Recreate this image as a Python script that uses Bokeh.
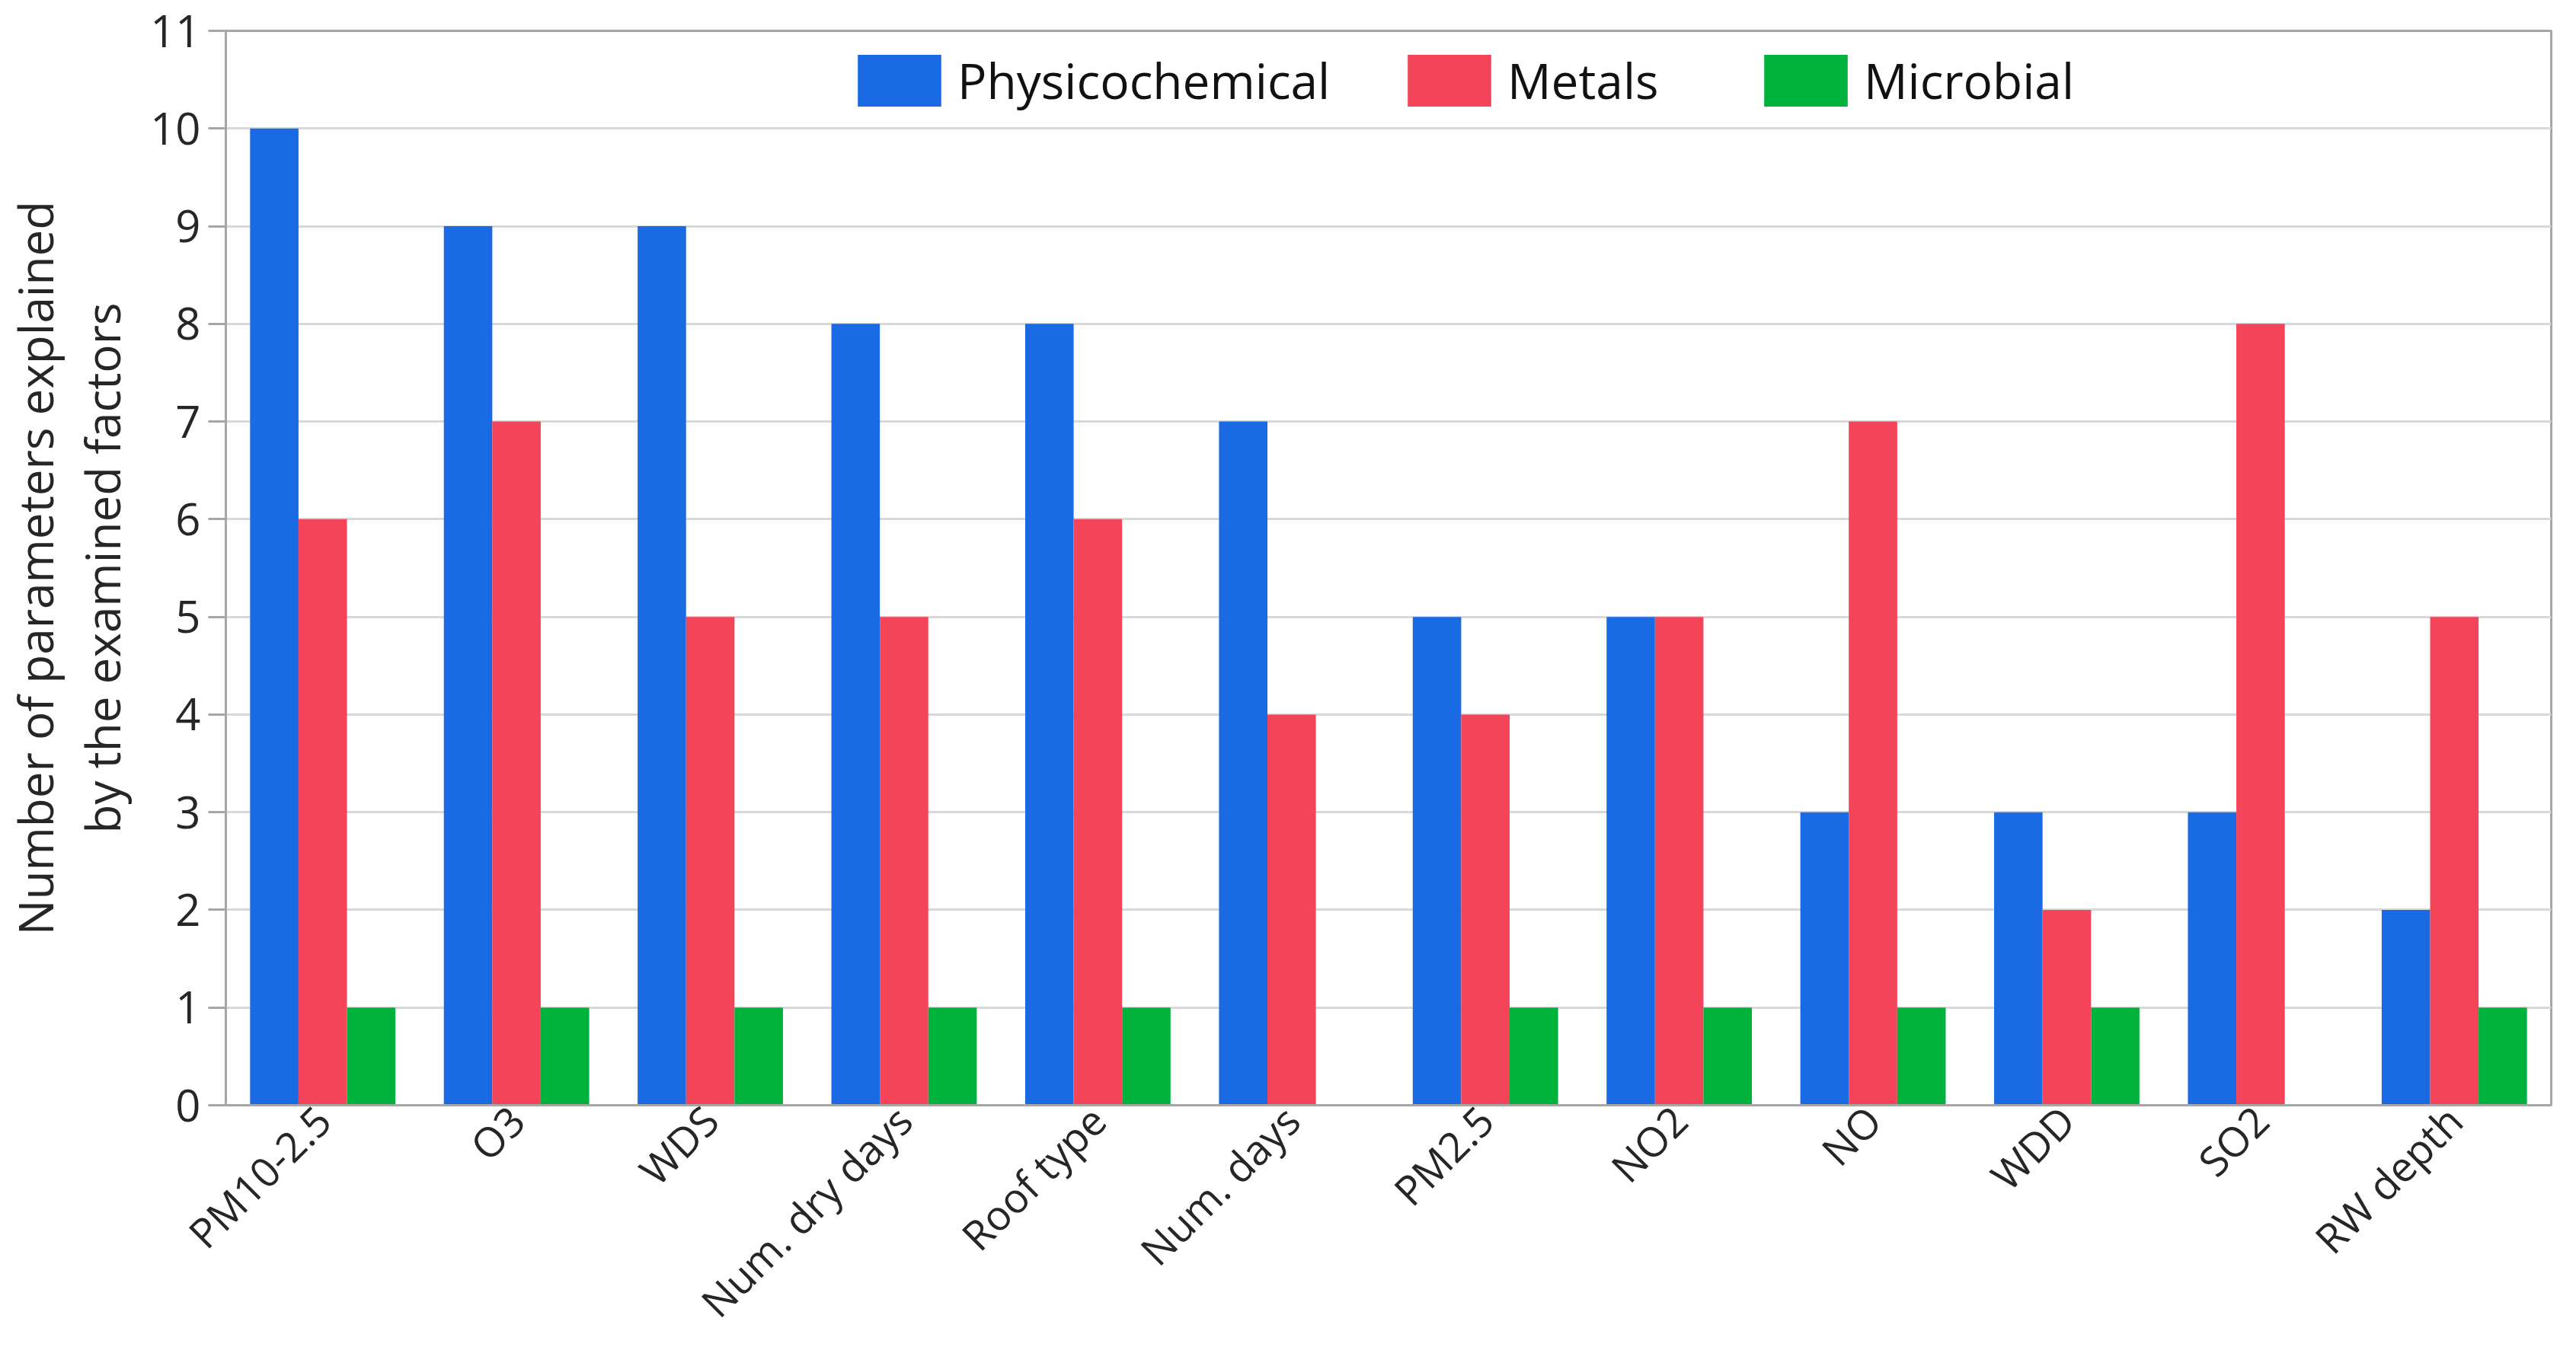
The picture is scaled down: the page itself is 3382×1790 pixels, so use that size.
import math
from bokeh.plotting import figure
from bokeh.models import ColumnDataSource, FactorRange, FixedTicker, Legend, LegendItem
from bokeh.transform import dodge
from bokeh.embed import file_html
from bokeh.resources import INLINE

categories = ["PM10-2.5", "O3", "WDS", "Num. dry days", "Roof type", "Num. days",
              "PM2.5", "NO2", "NO", "WDD", "SO2", "RW depth"]
physicochemical = [10, 9, 9, 8, 8, 7, 5, 5, 3, 3, 3, 2]
metals = [6, 7, 5, 5, 6, 4, 4, 5, 7, 2, 8, 5]
microbial = [1, 1, 1, 1, 1, 0, 1, 1, 1, 1, 0, 1]
series_names = ["Physicochemical", "Metals", "Microbial"]
y_ticks = list(range(12))

BLUE = "#1a6be3"
RED = "#f4445a"
GREEN = "#00b23c"
FONT = "Open Sans"
TXT = "#262626"
AXIS_GRAY = "#a6a6a6"

src = ColumnDataSource(dict(cat=categories, phys=physicochemical, met=metals, mic=microbial))

p = figure(x_range=FactorRange(factors=categories, range_padding=0), y_range=(0, 11),
           width=3366, height=1774, output_backend="svg", toolbar_location=None,
           min_border_left=292, min_border_right=17, min_border_top=40, min_border_bottom=320)

r1 = p.vbar(x=dodge("cat", -0.25, range=p.x_range), top="phys", width=0.25, source=src,
            fill_color=BLUE, line_color=None)
r2 = p.vbar(x=dodge("cat", 0.0, range=p.x_range), top="met", width=0.25, source=src,
            fill_color=RED, line_color=None)
r3 = p.vbar(x=dodge("cat", 0.25, range=p.x_range), top="mic", width=0.25, source=src,
            fill_color=GREEN, line_color=None)

p.outline_line_color = AXIS_GRAY
p.outline_line_width = 3

p.xgrid.grid_line_color = None
p.ygrid.grid_line_color = "#d9d9d9"
p.ygrid.grid_line_width = 3

# y axis
p.yaxis.ticker = FixedTicker(ticks=y_ticks)
p.yaxis.axis_label = "Number of parameters explained\nby the examined factors"
p.yaxis.axis_label_text_font = FONT
p.yaxis.axis_label_text_font_size = "62px"
p.yaxis.axis_label_text_font_style = "normal"
p.yaxis.axis_label_text_color = TXT
p.yaxis.axis_label_text_line_height = 1.05
p.yaxis.axis_label_standoff = 18
p.yaxis.major_label_text_font = FONT
p.yaxis.major_label_text_font_size = "58px"
p.yaxis.major_label_text_color = TXT
p.yaxis.major_label_standoff = 10
p.yaxis.axis_line_color = AXIS_GRAY
p.yaxis.axis_line_width = 3
p.yaxis.major_tick_line_color = AXIS_GRAY
p.yaxis.major_tick_line_width = 3
p.yaxis.major_tick_out = 23
p.yaxis.major_tick_in = 0
p.yaxis.minor_tick_line_color = None

# x axis
p.xaxis.major_label_orientation = math.pi / 4
p.xaxis.major_label_text_font = FONT
p.xaxis.major_label_text_font_size = "54px"
p.xaxis.major_label_text_color = TXT
p.xaxis.major_label_standoff = 4
p.xaxis.axis_line_color = AXIS_GRAY
p.xaxis.axis_line_width = 3
p.xaxis.major_tick_line_color = None
p.xaxis.minor_tick_line_color = None

legend_x = [816, 1538, 2006]
renderers = [r1, r2, r3]
for name, r, lx in zip(series_names, renderers, legend_x):
    lg = Legend(items=[LegendItem(label=name, renderers=[r])],
                orientation="horizontal", location=(lx, 1302))
    lg.glyph_width = 137
    lg.glyph_height = 85
    lg.label_height = 85
    lg.label_standoff = 8
    lg.padding = 0
    lg.margin = 0
    lg.border_line_color = None
    lg.background_fill_alpha = 0
    lg.label_text_font = FONT
    lg.label_text_font_size = "64px"
    lg.label_text_color = "#111111"
    p.add_layout(lg)

open("out.html", "w").write(file_html(p, INLINE))
